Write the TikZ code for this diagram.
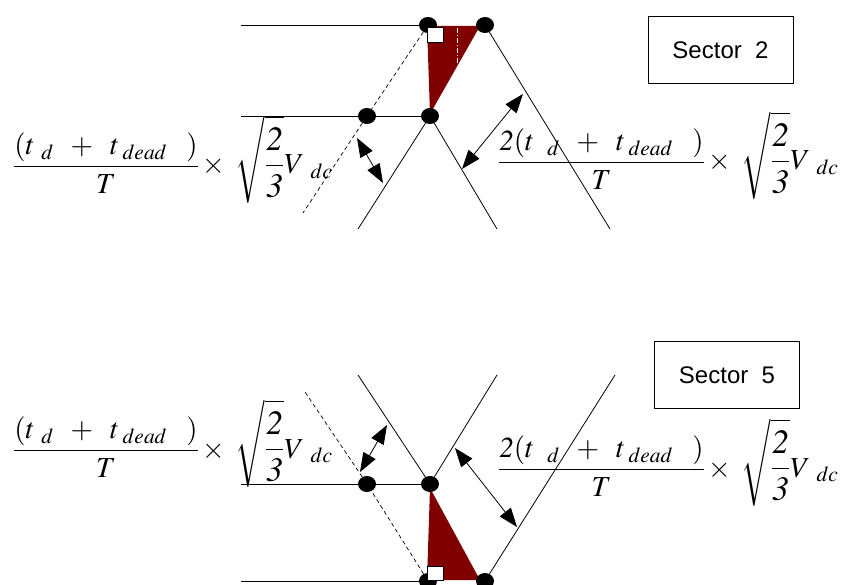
\documentclass[tikz,border=0pt]{standalone}
\usepackage{amsmath,mathptmx}
\usepackage[no-math]{fontspec}
\newfontfamily\sectfont{Liberation Sans}
\usetikzlibrary{arrows.meta,shapes.geometric}
\definecolor{darkred}{RGB}{128,0,0}
\pgfdeclarelayer{bg}
\pgfsetlayers{bg,main}
\newcommand{\twothirds}{\text{\fontsize{34}{40}\selectfont$\dfrac{\mathit{2}}{\mathit{3}}$}}

\begin{document}
\begin{tikzpicture}[x=1pt,y=-1pt,
    dot/.style={ellipse,fill=black,minimum width=18pt,minimum height=16pt,inner sep=0pt},
    thin line/.style={line width=0.8pt},
    dash line/.style={line width=0.7pt,dash pattern=on 4pt off 3pt},
    dbl arrow/.style={line width=0.8pt,{Triangle[length=19pt,width=14pt]}-{Triangle[length=19pt,width=14pt]}},
    sectbox/.style={draw,line width=1pt,minimum width=145pt,minimum height=67pt,font=\sectfont\fontsize{24}{28}\selectfont},
    formula/.style={inner sep=0pt,font=\fontsize{29}{35}\selectfont},
    corner/.style={draw=black,fill=white,line width=0.6pt}]
    \useasboundingbox (0,0) rectangle (861,585);

    % ---- Sector 2 ----
    % Points
    \coordinate (L1) at (241,25);
    \coordinate (L2) at (241,116);
    \coordinate (P1) at (358,229);
    \coordinate (P2) at (497,229);
    \coordinate (P3) at (610,229);
    \coordinate (P4) at (303,213);
    \node[dot] (A) at (428,25) {};
    \node[dot] (B) at (485,25) {};
    \node[dot] (C) at (367,116) {};
    \node[dot] (D) at (430,116) {};

    % Triangle
    \begin{pgfonlayer}{bg}
        \fill[darkred] (427,26) -- (480,26) -- (430,114) -- cycle;
        \draw[white,line width=0.5pt,dash pattern=on 5pt off 2pt on 1pt off 2pt] (457,28) -- (457,64);
    \end{pgfonlayer}
    \draw[corner] (427,27) rectangle (443,42);

    % Lines
    \draw[thin line] (L1) -- (A);
    \draw[thin line] (L2) -- (C) -- (D);
    \draw[thin line] (D) -- (P1);
    \draw[thin line] (D) -- (P2);
    \draw[thin line] (B) -- (P3);
    \draw[dash line] (A) -- (C) -- (P4);

    % Distances
    \coordinate (E1) at (357,138);
    \coordinate (E2) at (383,183);
    \coordinate (E3) at (523,94);
    \coordinate (E4) at (462,169);
    \draw[dbl arrow] (E1) -- (E2);
    \draw[dbl arrow] (E3) -- (E4);

    % Labels
    \node[formula,anchor=base west] (f1) at (13,174)
        {$\displaystyle\frac{(t\;{}_{d}\;\;+\;\;t\,{}_{dead}\;\;\;)}{T}\times\;\sqrt{\twothirds}V\;{}_{dc}$};
    \node[formula,anchor=base west] (f2) at (498,170)
        {$\displaystyle\frac{\mathit{2}(t\;\;{}_{d}\;\;+\;\;t\,{}_{dead}\;\;\;)}{T}\times\;\sqrt{\twothirds}V\;{}_{dc}$};
    \node[sectbox] (s2) at (720.5,50.5) {Sector\ \ 2};

    % ---- Sector 5 ----
    % Points
    \coordinate (L3) at (241,484);
    \coordinate (L4) at (241,581);
    \coordinate (Q1) at (358,375);
    \coordinate (Q2) at (497,375);
    \coordinate (Q3) at (615,375);
    \coordinate (Q4) at (305,392);
    \node[dot] (E) at (367,484) {};
    \node[dot] (F) at (430,484) {};
    \node[dot] (G) at (428,581) {};
    \node[dot] (H) at (485,581) {};

    % Triangle
    \begin{pgfonlayer}{bg}
        \fill[darkred] (430,488) -- (480,580) -- (427,580) -- cycle;
    \end{pgfonlayer}
    \draw[corner] (427,566) rectangle (443,580);

    % Lines
    \draw[thin line] (L3) -- (E) -- (F);
    \draw[thin line] (L4) -- (G);
    \draw[thin line] (F) -- (Q1);
    \draw[thin line] (F) -- (Q2);
    \draw[thin line] (H) -- (Q3);
    \draw[dash line] (G) -- (E) -- (Q4);

    % Distances
    \coordinate (K1) at (387,425);
    \coordinate (K2) at (360,472);
    \coordinate (K3) at (455,448);
    \coordinate (K4) at (517,527);
    \draw[dbl arrow] (K1) -- (K2);
    \draw[dbl arrow] (K3) -- (K4);

    % Labels
    \node[formula,anchor=base west] (f3) at (13,458)
        {$\displaystyle\frac{(t\;{}_{d}\;\;+\;\;t\,{}_{dead}\;\;\;)}{T}\times\;\sqrt{\twothirds}V\;{}_{dc}$};
    \node[formula,anchor=base west] (f4) at (498,477)
        {$\displaystyle\frac{\mathit{2}(t\;\;{}_{d}\;\;+\;\;t\,{}_{dead}\;\;\;)}{T}\times\;\sqrt{\twothirds}V\;{}_{dc}$};
    \node[sectbox] (s5) at (727,375) {Sector\ \ 5};
\end{tikzpicture}
\end{document}
